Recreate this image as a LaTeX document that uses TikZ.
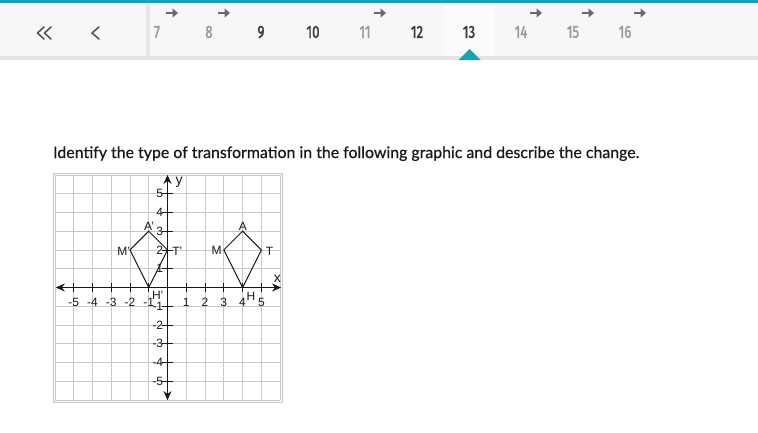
\documentclass[tikz,border=0pt]{standalone}
\usepackage{fontspec}
\setmainfont{Liberation Sans}
\newfontfamily\navfont[FakeStretch=0.75,FakeBold=2]{Fira Sans}
\newfontfamily\qfont[FakeBold=0.6]{Lato}
\usetikzlibrary{arrows.meta}
\definecolor{tealbar}{RGB}{30,159,180}
\definecolor{navbg}{RGB}{247,247,247}
\definecolor{tabsel}{RGB}{251,251,251}
\definecolor{navline}{RGB}{228,228,228}
\definecolor{divider}{RGB}{232,232,232}
\definecolor{numdark}{RGB}{60,60,60}
\definecolor{numlight}{RGB}{155,155,155}
\definecolor{arrowc}{RGB}{105,105,105}
\definecolor{chevc}{RGB}{85,85,85}
\definecolor{gridc}{RGB}{200,200,200}
\definecolor{inkc}{RGB}{25,25,25}
\tikzset{
  navnum/.style={font=\navfont\fontsize{17.5}{17.5}\selectfont, inner sep=0pt, anchor=center},
  navdark/.style={navnum, text=numdark},
  navlight/.style={navnum, text=numlight},
  nextarrow/.style={draw=arrowc, line width=2.6pt, -{Triangle[length=5.5pt,width=9pt]}},
  chev/.style={draw=chevc, line width=1.6pt, line cap=round, line join=round},
  gridline/.style={draw=gridc, line width=0.7pt},
  axisline/.style={draw=inkc, line width=1.6pt, {Stealth[length=9pt,width=8pt]}-{Stealth[length=9pt,width=8pt]}},
  tickline/.style={draw=inkc, line width=0.9pt},
  kite/.style={draw=inkc, line width=1pt, line join=miter},
  lab/.style={font=\fontsize{12}{12}\selectfont, text=inkc, inner sep=0pt},
  axlab/.style={font=\fontsize{14}{14}\selectfont, text=inkc, inner sep=0pt},
}
\begin{document}
\begin{tikzpicture}[x=1pt,y=-1pt]
\useasboundingbox (0,0) rectangle (758,432);
\fill[white] (0,0) rectangle (758,432);
% navigation bar
\fill[navbg] (0,0) rectangle (758,56);
\fill[tabsel] (444,3) rectangle (495,56);
\fill[navline] (0,55.5) rectangle (758,59.5);
\fill[tealbar] (0,0) rectangle (758,3);
\fill[divider] (146,3) rectangle (150,56);
\fill[tealbar] (458.5,60) -- (469.5,49) -- (480.5,60) -- cycle;
% chevrons
\draw[chev] (44,27) -- (37.5,33) -- (44,39);
\draw[chev] (51,27) -- (44.5,33) -- (51,39);
\draw[chev] (99,27) -- (92,33) -- (99,39);
% numbers
\node[navlight] (n7) at (157,32) {7};
\node[navlight] (n8) at (209,32) {8};
\node[navdark] (n9) at (261,32) {9};
\node[navdark] (n10) at (313,32) {10};
\node[navlight] (n11) at (365,32) {11};
\node[navdark] (n12) at (417,32) {12};
\node[navdark] (n13) at (469,32) {13};
\node[navlight] (n14) at (521,32) {14};
\node[navlight] (n15) at (573,32) {15};
\node[navlight] (n16) at (625,32) {16};
\foreach \c in {157,209,365,521,573,625}{
  \draw[nextarrow] (\c+9,13) -- (\c+21,13);
}
% question
\node[anchor=base west, inner sep=0pt, text=inkc] (q) at (53,158)
  {\resizebox{586pt}{!}{\qfont\fontsize{16}{16}\selectfont Identify the type of transformation in the following graphic and describe the change.}};
% graph
\begin{scope}[shift={(167.5pt,-287.5pt)}, x=18.77pt, y=18.77pt]
  \foreach \k in {-6,...,6}{
    \draw[gridline] (\k,-6) -- (\k,6);
    \draw[gridline] (-6,\k) -- (6,\k);
  }
  \draw[gridline] (-6.1,-6.1) rectangle (6.1,6.1);
  \coordinate (xl) at (-5.95,0);
  \coordinate (xr) at (6.05,0);
  \coordinate (yb) at (0,-6);
  \coordinate (yt) at (0,6);
  \draw[axisline] (xl) -- (xr);
  \draw[axisline] (yb) -- (yt);
  \foreach \i in {-5,-4,-3,-2,-1,1,2,3,4,5}{
    \draw[tickline] (\i,-0.23) -- (\i,0.23);
    \draw[tickline] (-0.3,\i) -- (0.3,\i);
    \node[lab] at (\i,-0.78) {\i};
    \node[lab, anchor=east] at (-0.22,\i) {\i};
  }
  \node[axlab] (xlab) at (5.85,0.45) {x};
  \node[axlab] (ylab) at (0.62,5.6) {y};
  % kite MATH
  \coordinate (M) at (3,2);
  \coordinate (A) at (4,3);
  \coordinate (T) at (5,2);
  \coordinate (H) at (4,0);
  \draw[kite] (M) -- (A) -- (T) -- (H) -- cycle;
  % kite M'A'T'H'
  \coordinate (Mp) at (-2,2);
  \coordinate (Ap) at (-1,3);
  \coordinate (Tp) at (0,2);
  \coordinate (Hp) at (-1,0);
  \draw[kite] (Mp) -- (Ap) -- (Tp) -- (Hp) -- cycle;
  \node[lab] (lA) at (4.02,3.28) {A};
  \node[lab] (lM) at (2.62,1.98) {M};
  \node[lab] (lT) at (5.43,1.95) {T};
  \node[lab] (lH) at (4.44,-0.45) {H};
  \node[lab] (lAp) at (-0.98,3.28) {A'};
  \node[lab] (lMp) at (-2.33,1.95) {M'};
  \node[lab] (lTp) at (0.52,1.95) {T'};
  \node[lab] (lHp) at (-0.52,-0.42) {H'};
\end{scope}
\end{tikzpicture}
\end{document}
